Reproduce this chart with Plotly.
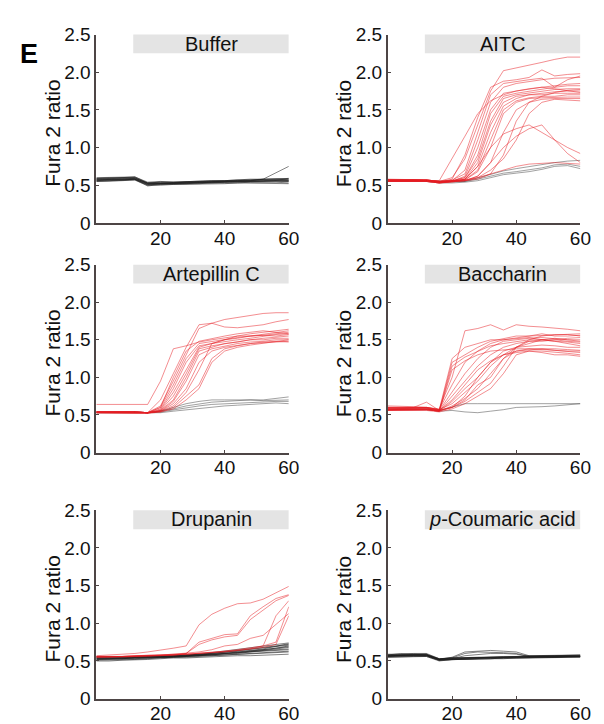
import plotly.graph_objects as go

# ---------------- data ----------------
TIME = [0, 4, 8, 12, 16, 20, 24, 28, 32, 36, 40, 44, 48, 52, 56, 60]

PANEL_TITLES = ["Buffer", "AITC", "Artepillin C", "Baccharin", "Drupanin",
                "<i>p</i>-Coumaric acid"]
Y_TICKS = [0, 0.5, 1.0, 1.5, 2.0, 2.5]
Y_TICK_TEXT = ["0", "0.5", "1.0", "1.5", "2.0", "2.5"]
X_TICKS = [20, 40, 60]
X_TICK_TEXT = ["20", "40", "60"]
Y_LABEL = "Fura 2 ratio"
PANEL_LETTER = "E"

BUFFER_BLACK = [
    [.58, .59, .60, .60, .52, .53, .53, .54, .54, .55, .55, .56, .56, .57, .57, .58],
    [.56, .57, .57, .58, .50, .52, .52, .53, .53, .54, .54, .55, .55, .56, .56, .56],
    [.60, .60, .61, .61, .54, .55, .54, .55, .55, .56, .56, .57, .58, .58, .59, .59],
    [.55, .55, .56, .57, .49, .51, .51, .52, .52, .53, .53, .53, .54, .54, .54, .53],
    [.57, .58, .58, .59, .53, .53, .53, .54, .55, .55, .56, .56, .57, .58, .58, .57],
    [.59, .59, .60, .60, .52, .52, .52, .53, .53, .54, .55, .55, .56, .56, .57, .57],
    [.56, .56, .57, .58, .51, .51, .52, .52, .53, .53, .54, .54, .55, .55, .55, .55],
    [.58, .58, .59, .59, .53, .54, .54, .54, .55, .55, .55, .56, .56, .58, .66, .75],
    [.57, .57, .58, .58, .51, .52, .53, .53, .54, .54, .55, .55, .55, .56, .56, .56],
    [.55, .56, .56, .57, .50, .50, .51, .51, .52, .52, .52, .53, .53, .53, .53, .52],
    [.59, .60, .60, .61, .53, .54, .54, .55, .55, .56, .56, .57, .57, .58, .58, .59],
    [.57, .57, .57, .58, .52, .52, .53, .53, .54, .54, .54, .55, .55, .55, .56, .55],
]
BUFFER_RED = []

AITC_BLACK = [
    [.57, .57, .57, .56, .55, .55, .55, .60, .65, .69, .72, .75, .78, .80, .82, .83],
    [.56, .56, .56, .56, .54, .54, .55, .58, .62, .66, .68, .70, .73, .77, .78, .75],
    [.55, .55, .55, .55, .53, .53, .54, .56, .60, .64, .66, .68, .71, .75, .76, .72],
]
AITC_RED = [
    [.57, .57, .57, .57, .55, .60, .85, 1.30, 1.75, 2.02, 2.06, 2.10, 2.13, 2.17, 2.20, 2.20],
    [.56, .56, .57, .56, .56, .85, 1.15, 1.45, 1.62, 1.70, 1.75, 1.78, 1.80, 1.78, 1.76, 1.73],
    [.58, .58, .58, .57, .54, .58, .90, 1.40, 1.80, 1.88, 1.90, 1.93, 2.03, 1.95, 1.97, 1.98],
    [.56, .56, .56, .56, .54, .56, .70, 1.20, 1.70, 1.85, 1.88, 1.90, 1.92, 1.80, 1.90, 1.95],
    [.57, .57, .57, .57, .55, .57, .65, 1.10, 1.60, 1.80, 1.85, 1.88, 1.90, 1.92, 1.93, 1.93],
    [.55, .55, .55, .55, .53, .55, .62, 1.00, 1.50, 1.72, 1.75, 1.78, 1.80, 1.82, 1.84, 1.85],
    [.56, .56, .56, .56, .54, .56, .60, .90, 1.45, 1.68, 1.72, 1.75, 1.77, 1.80, 1.82, 1.82],
    [.57, .57, .57, .57, .55, .56, .60, .85, 1.35, 1.65, 1.70, 1.72, 1.75, 1.77, 1.78, 1.78],
    [.55, .55, .55, .55, .53, .55, .58, .80, 1.30, 1.60, 1.68, 1.70, 1.72, 1.74, 1.75, 1.75],
    [.56, .56, .56, .56, .54, .55, .58, .75, 1.20, 1.55, 1.65, 1.70, 1.70, 1.72, 1.72, 1.72],
    [.57, .57, .57, .56, .55, .56, .57, .70, 1.10, 1.50, 1.62, 1.66, 1.68, 1.68, 1.70, 1.70],
    [.55, .55, .55, .55, .53, .54, .57, .68, 1.00, 1.45, 1.60, 1.65, 1.66, 1.67, 1.67, 1.67],
    [.56, .56, .56, .56, .54, .55, .56, .62, .80, 1.20, 1.50, 1.60, 1.64, 1.65, 1.65, 1.65],
    [.57, .57, .57, .57, .55, .56, .57, .60, .70, .85, 1.10, 1.45, 1.60, 1.64, 1.63, 1.62],
    [.56, .56, .56, .56, .54, .55, .56, .58, .65, .90, 1.35, 1.60, 1.68, 1.73, 1.76, 1.77],
    [.56, .56, .56, .56, .54, .55, .58, .75, 1.00, 1.18, 1.25, 1.30, 1.20, 1.10, 1.00, .92],
    [.55, .55, .55, .55, .53, .54, .56, .62, .80, 1.00, 1.15, 1.25, 1.30, 1.10, .92, .80],
    [.57, .57, .57, .57, .55, .55, .56, .60, .65, .70, .75, .78, .79, .80, .79, .78],
]

ARTEPILLIN_BLACK = [
    [.54, .54, .54, .54, .53, .55, .60, .65, .68, .70, .70, .70, .70, .70, .72, .74],
    [.53, .53, .53, .53, .53, .54, .57, .60, .62, .64, .65, .66, .67, .67, .68, .68],
    [.53, .53, .53, .53, .52, .53, .55, .57, .59, .61, .62, .63, .64, .65, .66, .65],
    [.54, .54, .54, .54, .53, .55, .58, .62, .65, .67, .68, .69, .70, .69, .70, .70],
]
ARTEPILLIN_RED = [
    [.54, .54, .54, .54, .53, .70, 1.05, 1.40, 1.70, 1.72, 1.77, 1.80, 1.83, 1.85, 1.86, 1.86],
    [.64, .64, .64, .64, .64, .95, 1.38, 1.42, 1.47, 1.50, 1.52, 1.55, 1.55, 1.56, 1.55, 1.57],
    [.54, .54, .54, .54, .53, .62, .95, 1.30, 1.65, 1.72, 1.67, 1.66, 1.68, 1.70, 1.74, 1.77],
    [.54, .54, .54, .54, .53, .60, .90, 1.25, 1.45, 1.48, 1.50, 1.53, 1.55, 1.57, 1.60, 1.62],
    [.53, .53, .53, .53, .53, .58, .85, 1.20, 1.42, 1.45, 1.50, 1.52, 1.55, 1.56, 1.58, 1.60],
    [.54, .54, .54, .54, .53, .57, .80, 1.10, 1.40, 1.45, 1.48, 1.50, 1.52, 1.55, 1.57, 1.58],
    [.53, .53, .53, .53, .52, .56, .75, 1.05, 1.38, 1.42, 1.45, 1.48, 1.50, 1.52, 1.53, 1.55],
    [.54, .54, .54, .54, .53, .56, .70, 1.00, 1.35, 1.40, 1.45, 1.47, 1.50, 1.50, 1.52, 1.52],
    [.53, .53, .53, .53, .53, .55, .68, .95, 1.30, 1.38, 1.42, 1.45, 1.47, 1.48, 1.50, 1.50],
    [.54, .54, .54, .54, .53, .55, .65, .85, 1.20, 1.35, 1.40, 1.43, 1.45, 1.46, 1.47, 1.48],
    [.53, .53, .53, .53, .52, .54, .60, .75, .90, 1.25, 1.38, 1.42, 1.45, 1.47, 1.48, 1.47],
    [.54, .54, .54, .54, .53, .54, .58, .70, .85, 1.20, 1.35, 1.40, 1.43, 1.45, 1.47, 1.50],
    [.53, .53, .53, .53, .53, .55, .62, .80, 1.10, 1.45, 1.50, 1.55, 1.58, 1.60, 1.62, 1.64],
    [.54, .54, .54, .54, .53, .60, 1.00, 1.35, 1.48, 1.52, 1.55, 1.58, 1.60, 1.62, 1.60, 1.58],
]

BACCHARIN_BLACK = [
    [.58, .58, .58, .58, .56, .60, .65, .65, .65, .65, .65, .65, .65, .65, .65, .65],
    [.57, .57, .57, .57, .55, .56, .54, .53, .55, .57, .60, .60, .61, .62, .64, .65],
]
BACCHARIN_RED = [
    [.60, .60, .60, .60, .58, 1.00, 1.62, 1.65, 1.70, 1.63, 1.70, 1.68, 1.67, 1.66, 1.64, 1.62],
    [.58, .58, .59, .60, .56, 1.20, 1.30, 1.40, 1.48, 1.52, 1.55, 1.55, 1.56, 1.57, 1.57, 1.58],
    [.57, .57, .58, .58, .55, 1.15, 1.27, 1.35, 1.42, 1.45, 1.48, 1.50, 1.50, 1.52, 1.50, 1.50],
    [.60, .60, .60, .60, .57, 1.25, 1.40, 1.45, 1.50, 1.50, 1.52, 1.53, 1.50, 1.48, 1.47, 1.45],
    [.56, .56, .56, .57, .55, 1.10, 1.22, 1.30, 1.35, 1.37, 1.38, 1.38, 1.37, 1.36, 1.35, 1.35],
    [.62, .62, .61, .60, .57, .90, 1.20, 1.35, 1.45, 1.50, 1.52, 1.55, 1.58, 1.55, 1.55, 1.56],
    [.59, .59, .60, .67, .56, .80, 1.05, 1.25, 1.40, 1.48, 1.50, 1.52, 1.53, 1.52, 1.50, 1.48],
    [.57, .57, .57, .58, .55, .75, .95, 1.15, 1.30, 1.40, 1.45, 1.48, 1.48, 1.50, 1.52, 1.53],
    [.58, .58, .58, .59, .56, .70, .90, 1.10, 1.22, 1.30, 1.33, 1.35, 1.35, 1.34, 1.32, 1.30],
    [.56, .56, .57, .57, .55, .68, .85, 1.00, 1.20, 1.35, 1.40, 1.42, 1.43, 1.42, 1.40, 1.40],
    [.60, .60, .60, .60, .57, .65, .80, .95, 1.15, 1.30, 1.40, 1.45, 1.50, 1.48, 1.45, 1.42],
    [.57, .57, .57, .57, .55, .62, .72, .85, 1.05, 1.25, 1.35, 1.37, 1.38, 1.36, 1.35, 1.33],
    [.58, .58, .58, .58, .56, .60, .68, .80, .92, 1.15, 1.40, 1.48, 1.50, 1.50, 1.48, 1.47],
    [.56, .56, .56, .56, .54, .58, .65, .75, .85, 1.05, 1.30, 1.35, 1.33, 1.30, 1.30, 1.28],
    [.59, .59, .59, .59, .56, .60, .70, .90, 1.00, 1.25, 1.40, 1.50, 1.55, 1.57, 1.57, 1.55],
    [.57, .57, .57, .57, .55, .60, .75, 1.00, 1.20, 1.30, 1.35, 1.38, 1.38, 1.38, 1.37, 1.36],
]

DRUPANIN_BLACK = [
    [.55, .55, .55, .56, .56, .57, .57, .58, .59, .61, .63, .65, .67, .70, .72, .74],
    [.54, .54, .55, .55, .56, .56, .57, .58, .59, .60, .62, .64, .66, .68, .70, .72],
    [.53, .53, .54, .54, .55, .56, .56, .57, .58, .59, .60, .62, .63, .65, .67, .70],
    [.52, .53, .53, .54, .54, .55, .56, .56, .57, .58, .59, .60, .62, .64, .66, .68],
    [.55, .55, .55, .55, .56, .56, .57, .57, .58, .59, .60, .61, .62, .63, .65, .66],
    [.51, .51, .52, .52, .53, .54, .55, .55, .56, .57, .58, .59, .60, .61, .62, .63],
    [.53, .53, .53, .54, .54, .55, .55, .56, .57, .57, .58, .59, .59, .60, .61, .62],
    [.50, .50, .51, .51, .52, .53, .54, .54, .55, .55, .56, .57, .57, .58, .58, .59],
    [.54, .54, .54, .55, .55, .56, .56, .57, .58, .60, .62, .63, .65, .67, .69, .71],
    [.52, .52, .53, .53, .54, .54, .55, .56, .57, .58, .59, .61, .63, .65, .67, .69],
    [.56, .56, .56, .56, .57, .57, .58, .58, .59, .60, .61, .62, .64, .66, .69, .73],
    [.53, .53, .53, .54, .54, .55, .56, .56, .57, .58, .60, .61, .62, .63, .64, .65],
]
DRUPANIN_RED = [
    [.57, .58, .59, .60, .62, .64, .67, .70, .98, 1.12, 1.20, 1.26, 1.27, 1.32, 1.40, 1.49],
    [.55, .55, .56, .56, .57, .57, .58, .60, .75, .80, .85, .86, 1.10, 1.22, 1.33, 1.38],
    [.56, .56, .56, .57, .57, .58, .59, .60, .72, .78, .82, .84, 1.05, 1.18, 1.30, 1.37],
    [.56, .56, .56, .57, .57, .58, .59, .60, .62, .65, .70, .72, .80, .84, .98, 1.13],
    [.55, .55, .56, .56, .57, .57, .58, .59, .60, .61, .62, .64, .66, .70, 1.10, 1.30],
    [.56, .56, .56, .57, .57, .58, .58, .59, .60, .61, .63, .65, .68, .70, .75, 1.22],
    [.55, .55, .55, .56, .56, .57, .58, .59, .60, .61, .62, .64, .66, .68, .72, 1.10],
]

COUMARIC_BLACK = [
    [.57, .58, .58, .58, .52, .53, .54, .54, .55, .55, .55, .56, .56, .56, .57, .57],
    [.56, .56, .57, .57, .51, .52, .53, .53, .54, .54, .54, .55, .55, .55, .56, .56],
    [.58, .59, .59, .59, .53, .54, .55, .55, .55, .56, .56, .56, .57, .57, .57, .58],
    [.55, .55, .56, .56, .50, .52, .52, .53, .53, .53, .54, .54, .54, .55, .55, .55],
    [.57, .57, .57, .58, .52, .53, .53, .54, .54, .55, .55, .55, .56, .56, .56, .56],
    [.59, .59, .60, .60, .53, .54, .54, .55, .55, .55, .56, .56, .56, .57, .57, .57],
    [.56, .57, .57, .57, .51, .52, .53, .53, .53, .54, .54, .55, .55, .55, .55, .56],
    [.58, .58, .58, .59, .52, .53, .54, .54, .55, .55, .56, .56, .57, .57, .57, .57],
    [.55, .56, .56, .56, .51, .52, .52, .53, .53, .54, .54, .54, .55, .55, .54, .55],
    [.57, .58, .58, .58, .53, .54, .54, .55, .55, .56, .56, .57, .57, .57, .58, .58],
    [.58, .60, .59, .58, .52, .55, .62, .63, .64, .63, .62, .57, .56, .56, .56, .56],
    [.57, .58, .58, .58, .52, .54, .60, .62, .62, .61, .60, .56, .56, .56, .55, .56],
    [.56, .57, .57, .57, .51, .53, .57, .59, .60, .60, .59, .56, .55, .55, .56, .56],
]
COUMARIC_RED = []

PANELS = [
    (BUFFER_BLACK, BUFFER_RED),
    (AITC_BLACK, AITC_RED),
    (ARTEPILLIN_BLACK, ARTEPILLIN_RED),
    (BACCHARIN_BLACK, BACCHARIN_RED),
    (DRUPANIN_BLACK, DRUPANIN_RED),
    (COUMARIC_BLACK, COUMARIC_RED),
]

# ---------------- styling / layout ----------------
W, H = 604, 724
FONT = "Liberation Sans, Arial, Helvetica, sans-serif"
AXIS_COLOR = "#4d4545"
DARK_LINE = "rgba(30,30,30,0.55)"
GREY_LINE = "rgba(70,70,70,0.5)"
PANEL_BLACK_COLORS = [DARK_LINE, GREY_LINE, GREY_LINE, GREY_LINE, DARK_LINE, DARK_LINE]
RED_LINE = "rgba(232,30,36,0.5)"
TICK_SIZE = 19

col_px = [(90, 286), (387, 583)]
row_px = [(17, 211), (254, 447.5), (507, 701)]

fig = go.Figure()
layout = dict(
    width=W, height=H,
    margin=dict(l=0, r=0, t=0, b=0),
    paper_bgcolor="white", plot_bgcolor="white",
    showlegend=False,
    font=dict(family=FONT, size=TICK_SIZE, color="#111"),
)
shapes, annotations = [], []

for i, (blacks, reds) in enumerate(PANELS):
    r, c = divmod(i, 2)
    n = i + 1
    xa = "x" if n == 1 else f"x{n}"
    ya = "y" if n == 1 else f"y{n}"
    x0p, x1p = col_px[c]
    y0p, y1p = row_px[r]
    layout[f"xaxis{'' if n == 1 else n}"] = dict(
        domain=[x0p / W, x1p / W], anchor=ya, range=[0, 60],
        tickmode="array", tickvals=X_TICKS, ticktext=X_TICK_TEXT,
        showline=True, linecolor=AXIS_COLOR, linewidth=2,
        ticks="inside", ticklen=3, tickcolor=AXIS_COLOR, tickwidth=1,
        ticklabelstandoff=-3,
        showgrid=False, zeroline=False, fixedrange=True,
        tickfont=dict(size=TICK_SIZE, family=FONT, color="#111"),
    )
    layout[f"yaxis{'' if n == 1 else n}"] = dict(
        domain=[1 - y1p / H, 1 - y0p / H], anchor=xa, range=[0, 2.5],
        tickmode="array", tickvals=Y_TICKS, ticktext=Y_TICK_TEXT,
        showline=True, linecolor=AXIS_COLOR, linewidth=2,
        ticks="inside", ticklen=3, tickcolor=AXIS_COLOR, tickwidth=1,
        showgrid=False, zeroline=False, fixedrange=True,
        tickfont=dict(size=TICK_SIZE, family=FONT, color="#111"),
    )
    for ys in blacks:
        fig.add_trace(go.Scatter(x=TIME, y=ys, mode="lines", xaxis=xa, yaxis=ya,
                                 line=dict(color=PANEL_BLACK_COLORS[i], width=1),
                                 hoverinfo="skip"))
    for ys in reds:
        fig.add_trace(go.Scatter(x=TIME, y=ys, mode="lines", xaxis=xa, yaxis=ya,
                                 line=dict(color=RED_LINE, width=1), hoverinfo="skip"))
    # grey title box
    shapes.append(dict(type="rect", xref=xa, yref=ya, x0=11.5, x1=60, y0=2.25, y1=2.51,
                       fillcolor="#e4e4e4", line=dict(width=0), layer="below"))
    annotations.append(dict(xref=xa, yref=ya, x=35.75, y=2.38, text=PANEL_TITLES[i],
                            showarrow=False, xanchor="center", yanchor="middle",
                            font=dict(size=20, family=FONT, color="#111")))
    # y axis title
    title_x = (x0p - 45) / W
    title_y = 1 - ((y0p + y1p) / 2 + 5) / H
    annotations.append(dict(xref="paper", yref="paper", x=title_x, y=title_y,
                            text=Y_LABEL, textangle=-90, showarrow=False,
                            xanchor="center", yanchor="middle",
                            font=dict(size=21, family=FONT, color="#111")))

annotations.append(dict(xref="paper", yref="paper", x=10 / W, y=1 - 37 / H,
                        text=f"<b>{PANEL_LETTER}</b>", showarrow=False,
                        xanchor="left", yanchor="middle",
                        font=dict(size=27, family=FONT, color="#000")))

layout["shapes"] = shapes
layout["annotations"] = annotations
fig.update_layout(**layout)
fig.write_html("out.html")
